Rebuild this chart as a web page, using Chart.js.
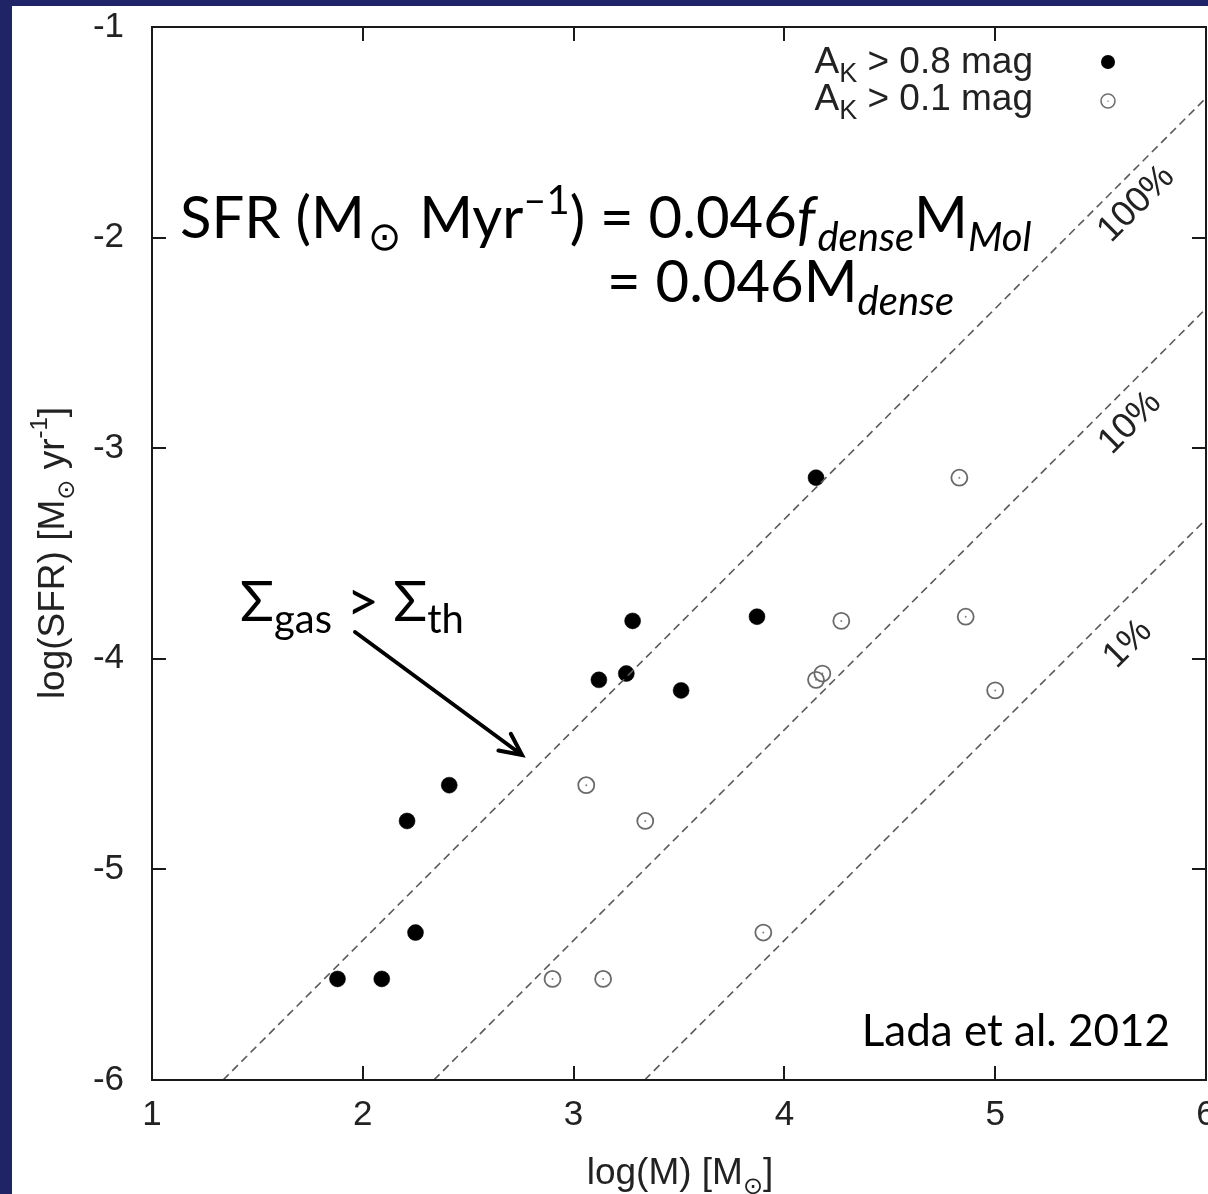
<!DOCTYPE html>
<html>
<head>
<meta charset="utf-8">
<script src="https://cdn.jsdelivr.net/npm/chart.js@4.4.1/dist/chart.umd.min.js"></script>
<style>
  html, body { margin: 0; padding: 0; background: #1f2466; }
  #wrap { width: 1208px; height: 1194px; }
</style>
</head>
<body>
<div id="wrap"><canvas id="c" width="1208" height="1194"></canvas></div>
<script>
// log(M) / log(SFR) of clouds, threshold-extinction masses (filled) and total masses (open)
const denseMass = [1.88, 2.09, 2.25, 2.21, 2.41, 3.12, 3.25, 3.28, 3.51, 3.87, 4.15];
const denseSFR  = [-5.52, -5.52, -5.30, -4.77, -4.60, -4.10, -4.07, -3.82, -4.15, -3.80, -3.14];
const totalMass = [2.90, 3.14, 3.90, 3.06, 3.34, 4.15, 4.18, 4.27, 5.00, 4.86, 4.83];
const totalSFR  = [-5.52, -5.52, -5.30, -4.60, -4.77, -4.10, -4.07, -3.82, -4.15, -3.80, -3.14];

// constant-efficiency relations, end points in (log M, log SFR)
const eff100 = [[1.337, -6], [6, -1.337]];
const eff10  = [[2.337, -6], [6, -2.337]];
const eff1   = [[3.337, -6], [6, -3.337]];

const xTicks = [1, 2, 3, 4, 5, 6];
const yTicks = [-6, -5, -4, -3, -2, -1];
const legendLabels = ['0.8', '0.1'];

const toPts = (xs, ys) => xs.map((x, i) => ({ x: x, y: ys[i] }));
const toLine = a => a.map(p => ({ x: p[0], y: p[1] }));

const SANS = '"Liberation Sans", Arial, Helvetica, sans-serif';
const SLIDE = 'Lato, "Open Sans", sans-serif';

// draws a run of text pieces with their own size / offset / style
function drawRich(ctx, x, y, parts, align) {
  ctx.save();
  ctx.textBaseline = 'alphabetic';
  ctx.textAlign = 'left';
  let total = 0;
  const widths = parts.map(p => {
    ctx.font = p.font;
    const w = ctx.measureText(p.t).width + (p.gap || 0);
    total += w;
    return w;
  });
  let cx = x;
  if (align === 'center') cx = x - total / 2;
  if (align === 'right') cx = x - total;
  parts.forEach((p, i) => {
    ctx.font = p.font;
    ctx.fillStyle = p.color || ctx.fillStyle;
    ctx.fillText(p.t, cx + (p.pre || 0), y + (p.dy || 0));
    cx += widths[i];
  });
  ctx.restore();
  return total;
}

const decor = {
  id: 'decor',
  beforeDraw(chart) {
    const ctx = chart.ctx;
    ctx.save();
    ctx.fillStyle = '#1f2466';
    ctx.fillRect(0, 0, chart.width, chart.height);
    ctx.fillStyle = '#ffffff';
    ctx.fillRect(12, 6, chart.width - 12, chart.height - 6);
    ctx.restore();
  },
  afterDatasetsDraw(chart) {
    const ctx = chart.ctx;
    const a = chart.chartArea;
    const xs = chart.scales.x, ys = chart.scales.y;

    // frame with inward ticks on all four sides
    ctx.save();
    ctx.strokeStyle = '#1a1a1a';
    ctx.lineWidth = 2;
    ctx.strokeRect(a.left, a.top, a.right - a.left, a.bottom - a.top);
    ctx.beginPath();
    const tl = 14;
    xTicks.forEach(v => {
      const px = Math.round(xs.getPixelForValue(v));
      ctx.moveTo(px, a.bottom); ctx.lineTo(px, a.bottom - tl);
      ctx.moveTo(px, a.top); ctx.lineTo(px, a.top + tl);
    });
    yTicks.forEach(v => {
      const py = Math.round(ys.getPixelForValue(v));
      ctx.moveTo(a.left, py); ctx.lineTo(a.left + tl, py);
      ctx.moveTo(a.right, py); ctx.lineTo(a.right - tl, py);
    });
    ctx.stroke();

    // tick labels
    ctx.fillStyle = '#222';
    ctx.font = '35px ' + SANS;
    ctx.textAlign = 'center';
    ctx.textBaseline = 'top';
    xTicks.forEach(v => ctx.fillText(String(v), xs.getPixelForValue(v), a.bottom + 18));
    ctx.textAlign = 'right';
    ctx.textBaseline = 'middle';
    yTicks.forEach(v => ctx.fillText(String(v), a.left - 28, ys.getPixelForValue(v)));
    ctx.restore();

    // efficiency labels along the dashed lines
    const effLabels = [['100%', 5.67, -1.84], ['10%', 5.64, -2.88], ['1%', 5.63, -3.93]];
    ctx.save();
    ctx.fillStyle = '#222';
    ctx.font = '36px ' + SANS;
    ctx.textAlign = 'center';
    ctx.textBaseline = 'middle';
    effLabels.forEach(l => {
      ctx.save();
      ctx.translate(xs.getPixelForValue(l[1]), ys.getPixelForValue(l[2]));
      ctx.rotate(-Math.PI / 4);
      ctx.fillText(l[0], 0, 0);
      ctx.restore();
    });
    ctx.restore();

    // legend
    ctx.save();
    ctx.fillStyle = '#222';
    const lgY = [73, 110];
    legendLabels.forEach((v, i) => {
      drawRich(ctx, 1033, lgY[i], [
        { t: 'A', font: '37px ' + SANS },
        { t: 'K', font: '27px ' + SANS, dy: 9 },
        { t: ' > ' + v + ' mag', font: '37px ' + SANS }
      ], 'right');
    });
    ctx.beginPath();
    ctx.fillStyle = '#000';
    ctx.arc(1108, 62, 7, 0, Math.PI * 2);
    ctx.fill();
    ctx.beginPath();
    ctx.strokeStyle = '#707070';
    ctx.lineWidth = 1.6;
    ctx.arc(1108, 101, 7, 0, Math.PI * 2);
    ctx.stroke();
    ctx.fillStyle = '#707070';
    ctx.fillRect(1107.5, 100.5, 1.2, 1.2);
    ctx.restore();

    // axis titles
    ctx.save();
    ctx.fillStyle = '#222';
    drawRich(ctx, 680, 1184, [
      { t: 'log(M) [M', font: '37px ' + SANS },
      { t: '\u2299', font: '24px "DejaVu Sans"', dy: 10 },
      { t: ']', font: '37px ' + SANS }
    ], 'center');
    ctx.translate(64, 553);
    ctx.rotate(-Math.PI / 2);
    drawRich(ctx, 0, 0, [
      { t: 'log(SFR) [M', font: '37px ' + SANS },
      { t: '\u2299', font: '24px "DejaVu Sans"', dy: 10 },
      { t: ' yr', font: '37px ' + SANS },
      { t: '-1', font: '24px ' + SANS, dy: -17 },
      { t: ']', font: '37px ' + SANS }
    ], 'center');
    ctx.restore();

    // slide annotations
    ctx.save();
    ctx.fillStyle = '#000';
    const big = '58px ' + SLIDE, sm = '40px ' + SLIDE;
    const ibig = 'italic 58px ' + SLIDE, ism = 'italic 40px ' + SLIDE;
    drawRich(ctx, 180, 238, [
      { t: 'SFR (M', font: big },
      { t: '\u2299', font: '40px "DejaVu Sans"', dy: 12, gap: 6, pre: 3 },
      { t: ' Myr', font: big },
      { t: '\u20131', font: sm, dy: -24 },
      { t: ') = 0.046', font: big },
      { t: 'f', font: ibig, gap: 2 },
      { t: 'dense', font: ism, dy: 13 },
      { t: 'M', font: big },
      { t: 'Mol', font: ism, dy: 13 }
    ]);
    drawRich(ctx, 607, 302, [
      { t: '= 0.046M', font: big },
      { t: 'dense', font: ism, dy: 13 }
    ]);
    drawRich(ctx, 240, 621, [
      { t: '\u03A3', font: '56px ' + SLIDE },
      { t: 'gas', font: '40px ' + SLIDE, dy: 12 },
      { t: ' > ', font: '56px ' + SLIDE },
      { t: '\u03A3', font: '56px ' + SLIDE },
      { t: 'th', font: '40px ' + SLIDE, dy: 12 }
    ]);
    drawRich(ctx, 1170, 1046, [{ t: 'Lada et al. 2012', font: '44px ' + SLIDE }], 'right');

    // arrow to the 100% line
    const x0 = 355, y0 = 632, x1 = 522, y1 = 755;
    const ang = Math.atan2(y1 - y0, x1 - x0);
    ctx.strokeStyle = '#000';
    ctx.lineWidth = 4;
    ctx.lineCap = 'round';
    ctx.beginPath();
    ctx.moveTo(x0, y0); ctx.lineTo(x1, y1);
    ctx.moveTo(x1 - 24 * Math.cos(ang - 0.45), y1 - 24 * Math.sin(ang - 0.45));
    ctx.lineTo(x1, y1);
    ctx.lineTo(x1 - 24 * Math.cos(ang + 0.45), y1 - 24 * Math.sin(ang + 0.45));
    ctx.stroke();
    ctx.restore();
  }
};

const dashed = {
  type: 'line', showLine: true, pointRadius: 0, borderColor: '#5a5a5a',
  borderWidth: 1.6, borderDash: [8, 5], fill: false
};

new Chart(document.getElementById('c'), {
  type: 'scatter',
  data: {
    datasets: [
      Object.assign({ label: '100%', data: toLine(eff100) }, dashed),
      Object.assign({ label: '10%', data: toLine(eff10) }, dashed),
      Object.assign({ label: '1%', data: toLine(eff1) }, dashed),
      {
        label: 'A_K > 0.1 mag', data: toPts(totalMass, totalSFR),
        pointRadius: 8, pointBackgroundColor: 'rgba(255,255,255,0)',
        pointBorderColor: '#6a6a6a', pointBorderWidth: 1.8
      },
      {
        label: 'centre', data: toPts(totalMass, totalSFR),
        pointRadius: 1, pointBackgroundColor: '#808080', pointBorderWidth: 0
      },
      {
        label: 'A_K > 0.8 mag', data: toPts(denseMass, denseSFR),
        pointRadius: 8, pointBackgroundColor: '#000', pointBorderColor: '#000', pointBorderWidth: 0.5
      }
    ]
  },
  options: {
    responsive: false,
    animation: false,
    devicePixelRatio: 1,
    layout: { autoPadding: false, padding: { left: 12, top: 27, right: 2, bottom: 0 } },
    plugins: { legend: { display: false }, tooltip: { enabled: false } },
    events: [],
    scales: {
      x: {
        type: 'linear', min: 1, max: 6,
        grid: { display: false, drawTicks: false }, border: { display: false },
        ticks: { display: false, stepSize: 1 },
        afterFit(s) { s.height = 114; s.paddingLeft = 0; s.paddingRight = 0; }
      },
      y: {
        type: 'linear', min: -6, max: -1,
        grid: { display: false, drawTicks: false }, border: { display: false },
        ticks: { display: false, stepSize: 1 },
        afterFit(s) { s.width = 140; s.paddingTop = 0; s.paddingBottom = 0; }
      }
    }
  },
  plugins: [decor]
});
</script>
</body>
</html>
